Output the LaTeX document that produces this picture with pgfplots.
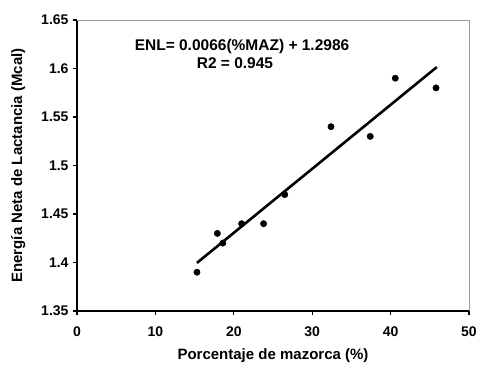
\documentclass[border=0pt]{standalone}
\usepackage{fontspec}
\setmainfont{Liberation Sans}
\usepackage{pgfplots}
\pgfplotsset{compat=1.18}
\begin{document}
\begin{tikzpicture}
\begin{axis}[
  name=ax,
  scale only axis,
  width=392pt, height=291pt,
  xmin=0, xmax=50, ymin=1.35, ymax=1.65,
  xtick={0,10,20,30,40,50},
  ytick={1.35,1.4,1.45,1.5,1.55,1.6,1.65},
  axis lines*=left,
  axis line style={black, line width=2pt, -},
  tick style={black, line width=1.4pt},
  tick align=outside,
  major tick length=4pt,
  ticklabel style={font=\fontsize{14}{16}\selectfont\bfseries},
  /pgf/number format/assume math mode=true,
  yticklabel style={/pgf/number format/fixed, /pgf/number format/precision=2},
  xticklabel style={yshift=-8pt},
  yticklabel style={xshift=-1pt},
  xlabel={Porcentaje de mazorca (\%)},
  ylabel={Energía Neta de Lactancia (Mcal)},
  label style={font=\fontsize{15}{17}\selectfont\bfseries},
  xlabel style={at={(axis description cs:0.5,-0.155)}, anchor=center},
  ylabel style={at={(axis description cs:-0.150,0.5)}, anchor=center},
  clip=false,
]
\draw[gray!80, line width=0.6pt] (rel axis cs:0,1) -- (rel axis cs:1,1) -- (rel axis cs:1,0);
\addplot[only marks, mark=*, mark size=3.2pt, black] coordinates {
  (15.3,1.39) (17.9,1.43) (18.6,1.42) (21.0,1.44) (23.8,1.44)
  (26.5,1.47) (32.4,1.54) (37.4,1.53) (40.6,1.59) (45.8,1.58)
};
\addplot[black, line width=2.6pt] coordinates {(15.3,1.3996) (45.9,1.6015)};
\node[font=\fontsize{15.5}{17}\selectfont\bfseries] at (axis cs:21.05,1.6222) {ENL= 0.0066(\%MAZ) + 1.2986};
\node[font=\fontsize{15.5}{17}\selectfont\bfseries] at (axis cs:20.15,1.6057) {R2 = 0.945};
\end{axis}
\pgfresetboundingbox
\path ([shift={(-77pt,-54pt)}]ax.south west) rectangle ([shift={(8pt,20pt)}]ax.north east);
\end{tikzpicture}
\end{document}
